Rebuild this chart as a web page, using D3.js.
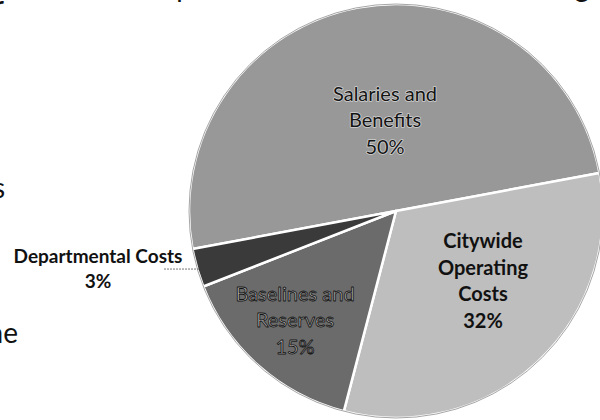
<!DOCTYPE html>
<html>
<head>
<meta charset="utf-8">
<script src="https://cdn.jsdelivr.net/npm/d3@7"></script>
<style>
  html, body { margin: 0; padding: 0; background: #ffffff; }
  svg { display: block; }
</style>
</head>
<body>
<svg id="chart" width="600" height="420"></svg>
<script>
// Budget breakdown by spending category
const categories = ["Salaries and Benefits", "Citywide Operating Costs", "Baselines and Reserves", "Departmental Costs"];
const values = [50, 32, 15, 3];
const labelLines = [
  ["Salaries and", "Benefits"],
  ["Citywide", "Operating", "Costs"],
  ["Baselines and", "Reserves"],
  ["Departmental Costs"]
];
const sliceColors = ["#989898", "#bebebe", "#6b6b6b", "#3a3a3a"];

const data = categories.map((c, i) => ({ category: c, value: values[i], lines: labelLines[i] }));

const svg = d3.select("#chart");
const cx = 396, cy = 211, radius = 207;

// Fragments of the surrounding page text, cut off by the frame
const fragments = svg.append("g")
  .attr("font-family", "Lato, 'Open Sans', sans-serif")
  .attr("font-size", 28)
  .attr("fill", "#111");
fragments.append("text").attr("x", 5).attr("y", 198).attr("text-anchor", "end").text("s");
fragments.append("text").attr("x", 18).attr("y", 343).attr("text-anchor", "end").text("ne");
fragments.append("text").attr("x", 4).attr("y", 16).attr("text-anchor", "end").text("r");
fragments.append("text").attr("x", 184).attr("y", -3).attr("text-anchor", "middle").text("p");
fragments.append("text").attr("x", 582).attr("y", -3).attr("text-anchor", "middle").text("g");

const startAngle = -100.6 * Math.PI / 180;
const pie = d3.pie()
  .sort(null)
  .value(d => d.value)
  .startAngle(startAngle)
  .endAngle(startAngle + 2 * Math.PI);

const arcs = pie(data);
const arc = d3.arc().innerRadius(0).outerRadius(radius);

const g = svg.append("g").attr("transform", `translate(${cx},${cy})`);

g.selectAll("path.slice")
  .data(arcs)
  .join("path")
  .attr("class", "slice")
  .attr("d", arc)
  .attr("fill", (d, i) => sliceColors[i])
  .attr("stroke", "#ffffff")
  .attr("stroke-width", 2.5)
  .attr("stroke-linejoin", "round");

// Thin outer rim
g.append("circle")
  .attr("r", radius)
  .attr("fill", "none")
  .attr("stroke", "#6a6a6a")
  .attr("stroke-width", 0.6);

// Label placement relative to the pie centre
const labelOffsets = [[-11, -91], [87, 70], [-101, 109], [-298, 58]];
const labelStyles = [
  { weight: 400, fill: "#141414", stroke: "#d0d0d0", sw: 1.6, order: "stroke" },
  { weight: 700, fill: "#111111", stroke: "none", sw: 0, order: "normal" },
  { weight: 400, fill: "#b4b4b4", stroke: "#151515", sw: 0.85, order: "normal" },
  { weight: 700, fill: "#111111", stroke: "none", sw: 0, order: "normal" }
];
const lineH = 26.5;

arcs.forEach((a, i) => {
  const lines = a.data.lines.concat([d3.format(".0%")(a.data.value / 100)]);
  const [ox, oy] = labelOffsets[i];
  const st = labelStyles[i];
  const lh = i === 3 ? 25 : lineH;
  const fs = i === 3 ? 19 : 20;
  const t = g.append("text")
    .attr("x", ox)
    .attr("text-anchor", "middle")
    .attr("font-family", "Lato, 'Open Sans', sans-serif")
    .attr("font-size", fs)
    .attr("font-weight", st.weight)
    .attr("fill", st.fill)
    .attr("stroke", st.stroke)
    .attr("stroke-width", st.sw)
    .attr("paint-order", st.order)
    .attr("stroke-linejoin", "round");
  const top = oy - (lines.length - 1) * lh / 2;
  lines.forEach((ln, k) => {
    t.append("tspan")
      .attr("x", ox)
      .attr("y", top + k * lh)
      .attr("dy", "0.35em")
      .text(ln);
  });
});

// Leader from the small slice to its outside label
const dep = arcs[3];
const depMid = (dep.startAngle + dep.endAngle) / 2;
const edgeX = radius * Math.sin(depMid);
const edgeY = -radius * Math.cos(depMid);
g.append("line")
  .attr("x1", labelOffsets[3][0] + 66)
  .attr("y1", edgeY + 1)
  .attr("x2", edgeX + 3)
  .attr("y2", edgeY + 1)
  .attr("stroke", "#777")
  .attr("stroke-width", 1)
  .attr("stroke-dasharray", "2,1");
</script>
</body>
</html>
